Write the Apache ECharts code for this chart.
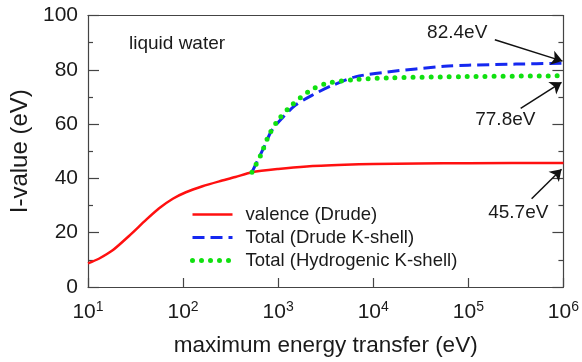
<!DOCTYPE html>
<html>
<head>
<meta charset="utf-8">
<script src="https://cdn.jsdelivr.net/npm/echarts@6/dist/echarts.min.js"></script>
<style>
  html, body { margin: 0; padding: 0; background: #fff; }
  #chart { width: 582px; height: 362px; }
</style>
</head>
<body>
<div id="chart"></div>
<script>
// Mean excitation energy of liquid water vs. maximum energy transfer
const seriesNames = ['valence (Drude)', 'Total (Drude K-shell)', 'Total (Hydrogenic K-shell)'];

// valence contribution (Drude model)
const valenceE = [10, 13, 18, 27, 41, 56, 78, 107, 160, 240, 355, 530, 1000, 2000, 5000, 10000, 30000, 100000, 1000000];
const valenceI = [8.7, 10.4, 13.4, 18.8, 24.8, 29.0, 32.5, 34.9, 37.1, 38.9, 40.5, 42.3, 43.5, 44.4, 45.0, 45.3, 45.5, 45.6, 45.7];

// total with K-shell (Drude)
const drudeKE = [530, 708, 850, 1100, 1510, 2240, 3630, 6460, 14100, 56000, 100000, 316000, 1000000];
const drudeKI = [42.3, 51.4, 57.5, 62.2, 66.9, 70.5, 74.1, 77.4, 79.2, 81.3, 81.7, 82.1, 82.4];

// total with K-shell (hydrogenic)
const hydroKE = [530, 660, 794, 1000, 1380, 2090, 3160, 6170, 14100, 100000, 1000000];
const hydroKI = [42.3, 48.8, 55.7, 61.5, 66.9, 72.0, 74.9, 76.3, 77.0, 77.5, 77.8];

const xTickExponents = [1, 2, 3, 4, 5, 6];
const yTicks = [0, 20, 40, 60, 80, 100];

const FONT = 'Liberation Sans, Arial, sans-serif';
const INK = '#1a1a1a';
const AXIS = '#444';

function pairs(xs, ys) { return xs.map((x, i) => [x, ys[i]]); }
function last(a) { return a[a.length - 1]; }

// labels with arrows pointing at the asymptotic values
const labelSpots = [
  { text: last(drudeKI).toFixed(1) + 'eV', at: [76400, 93.7], from: [190000, 91.1], to: [977000, 83.2] },
  { text: last(hydroKI).toFixed(1) + 'eV', at: [245000, 61.5], from: [355000, 65.8], to: [955000, 75.4] },
  { text: last(valenceI).toFixed(1) + 'eV', at: [335000, 27.3], from: [463000, 32.5], to: [955000, 43.4] }
];

const yAxisBase = {
  type: 'value', min: 0, max: 100, interval: 20,
  splitLine: { show: false },
  axisLine: { show: true, lineStyle: { color: AXIS, width: 1.2 } },
  axisTick: { show: true, inside: true, length: 11, lineStyle: { color: AXIS, width: 1.2 } },
  minorTick: { show: true, splitNumber: 2, length: 5, lineStyle: { color: AXIS, width: 1.2 } },
  minorSplitLine: { show: false }
};

const chart = echarts.init(document.getElementById('chart'), null, { renderer: 'canvas' });
chart.setOption({
  animation: false,
  backgroundColor: '#fff',
  textStyle: { fontFamily: FONT },
  title: {
    text: 'liquid water', left: 124, top: 29,
    textStyle: { fontFamily: FONT, fontSize: 19, fontWeight: 'normal', color: INK }
  },
  grid: { left: 88, right: 15, top: 15.5, bottom: 70, containLabel: false },
  legend: {
    orient: 'vertical', left: 190, top: 205, padding: 0,
    itemWidth: 40, itemHeight: 14, itemGap: 4,
    data: seriesNames,
    lineStyle: { width: 'inherit' },
    itemStyle: { opacity: 0 },
    textStyle: { fontFamily: FONT, fontSize: 18.5, color: INK, padding: [0, 0, 0, 8] }
  },
  xAxis: [{
    type: 'log', logBase: 10, min: 10, max: 1000000,
    name: 'maximum energy transfer (eV)', nameLocation: 'middle', nameGap: 47,
    nameTextStyle: { fontFamily: FONT, fontSize: 22.5, color: INK },
    splitLine: { show: false },
    axisLine: { show: true, onZero: false, lineStyle: { color: AXIS, width: 1.2 } },
    axisTick: { show: true, inside: true, length: 9, lineStyle: { color: AXIS, width: 1.2 } },
    minorTick: { show: false },
    axisLabel: {
      margin: 13,
      formatter: function (v) {
        const e = Math.round(Math.log10(v));
        return xTickExponents.indexOf(e) >= 0 ? '{b|10}{s|' + e + '}' : '';
      },
      rich: {
        b: { fontFamily: FONT, fontSize: 21, color: INK, lineHeight: 24 },
        s: { fontFamily: FONT, fontSize: 14, color: INK, verticalAlign: 'top', lineHeight: 14 }
      }
    }
  }, {
    type: 'log', logBase: 10, min: 10, max: 1000000, position: 'top',
    axisLine: { show: true, onZero: false, lineStyle: { color: AXIS, width: 1.2 } },
    axisTick: { show: false }, axisLabel: { show: false }, splitLine: { show: false }
  }],
  yAxis: [Object.assign({}, yAxisBase, {
    position: 'left',
    name: 'I-value (eV)', nameLocation: 'middle', nameGap: 49, nameRotate: 90,
    nameTextStyle: { fontFamily: FONT, fontSize: 24, color: INK },
    axisLabel: {
      margin: 10, fontFamily: FONT, fontSize: 21, color: INK,
      formatter: v => (yTicks.indexOf(v) >= 0 ? String(v) : '')
    }
  }), Object.assign({}, yAxisBase, {
    position: 'right', axisLabel: { show: false }
  })],
  series: [{
    name: seriesNames[0], type: 'line', symbol: 'none', smooth: 0.25,
    data: pairs(valenceE, valenceI),
    lineStyle: { color: '#ff1010', width: 2.5 },
    itemStyle: { color: '#ff1010' },
    z: 3,
    markPoint: {
      silent: true, symbol: 'circle', symbolSize: 0,
      itemStyle: { color: 'rgba(0,0,0,0)' },
      label: { show: true, position: 'inside', fontFamily: FONT, fontSize: 19, color: INK, formatter: '{b}' },
      data: labelSpots.map(s => ({ name: s.text, coord: s.at }))
    },
    markLine: {
      silent: true, symbol: ['none', 'arrow'], symbolSize: 11,
      lineStyle: { color: '#111', width: 1.5, type: 'solid' },
      itemStyle: { color: '#111' },
      label: { show: false },
      emphasis: { disabled: true },
      data: labelSpots.map(s => [{ coord: s.from }, { coord: s.to }])
    }
  }, {
    name: seriesNames[1], type: 'line', symbol: 'none', smooth: 0.3,
    data: pairs(drudeKE, drudeKI),
    lineStyle: { color: '#1528f0', width: 3, type: [12, 6] },
    itemStyle: { color: '#1528f0' },
    z: 4
  }, {
    name: seriesNames[2], type: 'line', symbol: 'none', smooth: 0.3,
    data: pairs(hydroKE, hydroKI),
    lineStyle: { color: '#10e010', width: 5, type: [0, 9], cap: 'round' },
    itemStyle: { color: '#10e010' },
    z: 5
  }]
});
</script>
</body>
</html>
